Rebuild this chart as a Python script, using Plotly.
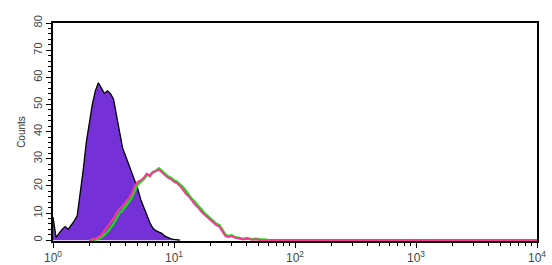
import numpy as np
import plotly.graph_objects as go

# bin grid in log10 units (decades of fluorescence)
purple_log = np.round(np.arange(0, 43) * 0.025, 3)
purple_counts = [8.5, 1, 2.5, 4, 5, 4, 5.5, 7, 9, 17, 26, 36, 43, 50, 55, 58, 56, 54, 55, 54,
                 52, 46, 39, 34, 31, 28, 25, 22, 19, 15, 12, 9, 6.5, 4.5, 3.5, 3, 2.5, 1.5, 1,
                 0.5, 0.3, 0.2, 0]

pink_log = np.round(0.3 + np.arange(0, 58) * 0.025, 3)
pink_counts = [0, 0.2, 0.5, 1, 2, 3.5, 5, 6.5, 8, 10, 11.5, 12.5, 14, 15.5, 17, 20, 21.5, 22,
               23, 24.5, 23.5, 25, 25.5, 26, 25, 24, 23, 22.5, 21.5, 21, 20, 18.5, 17, 16,
               14.5, 13, 12, 10.5, 9.5, 8.5, 7.5, 6.5, 5.5, 5, 3, 1.5, 1.2, 1.5, 1, 0.8, 0.5,
               0.3, 0.5, 0.3, 0.2, 0.3, 0.1, 0]

green_log = np.round(0.3 + np.arange(0, 60) * 0.025, 3)
green_counts = [0, 0, 0.2, 0.5, 1, 2, 3, 4.5, 6, 8, 10, 11, 12.5, 14, 15.5, 18, 20.5, 21.5,
                22.5, 24, 24, 25, 25.5, 26.5, 25.5, 24.5, 23.5, 23, 22, 21.5, 20.5, 19.5, 18,
                16.5, 15, 14, 12.5, 11.5, 10, 9, 8, 7, 6, 5.5, 3.5, 2, 1.5, 1.8, 1.2, 1, 0.8,
                0.5, 0.8, 0.5, 0.3, 0.5, 0.3, 0.2, 0.3, 0]

x_ticks = [1, 10, 100, 1000, 10000]
x_ticktext = ["10<sup>0</sup>", "10<sup>1</sup>", "10<sup>2</sup>", "10<sup>3</sup>", "10<sup>4</sup>"]
y_ticks = [0, 10, 20, 30, 40, 50, 60, 70, 80]

fig = go.Figure()
fig.add_trace(go.Scatter(x=10 ** purple_log, y=purple_counts, mode="lines",
                         line=dict(color="black", width=1.3), fill="tozeroy",
                         fillcolor="#7530d8"))
gx = list(10 ** green_log) + [10000]
gy = list(green_counts) + [0]
fig.add_trace(go.Scatter(x=gx, y=gy, mode="lines", line=dict(color="#10e010", width=2.4)))
px_ = list(10 ** pink_log) + [10000]
py_ = list(pink_counts) + [0]
fig.add_trace(go.Scatter(x=px_, y=py_, mode="lines", line=dict(color="#ff3399", width=2)))

fig.update_layout(
    width=552, height=265, margin=dict(l=53, r=15, t=23, b=24),
    paper_bgcolor="white", plot_bgcolor="white", showlegend=False,
    font=dict(family="Liberation Sans, Arial, sans-serif", color="#444", size=11),
)
fig.update_xaxes(type="log", range=[0, 4], tickvals=x_ticks, ticktext=x_ticktext,
                 automargin=False,
                 showgrid=False, zeroline=False, showline=True, linecolor="black",
                 linewidth=1.5, mirror=True, ticks="outside", ticklen=5, tickcolor="black",
                 tickwidth=1, minor=dict(ticks="outside", ticklen=3, tickcolor="black",
                                         dtick="D1", showgrid=False),
                 tickfont=dict(size=12, color="#444"))
fig.update_yaxes(range=[-0.3, 80], tickvals=y_ticks, tickangle=-90, showgrid=False,
                 automargin=False,
                 zeroline=False, showline=True, linecolor="black", linewidth=1.5, mirror=True,
                 ticks="outside", ticklen=5, tickcolor="black", tickwidth=1,
                 minor=dict(ticks="outside", ticklen=3, tickcolor="black", dtick=2,
                            showgrid=False),
                 title=dict(text="Counts", font=dict(size=10, color="#333"), standoff=4),
                 tickfont=dict(size=11, color="#444"))

fig.write_html("out.html")
